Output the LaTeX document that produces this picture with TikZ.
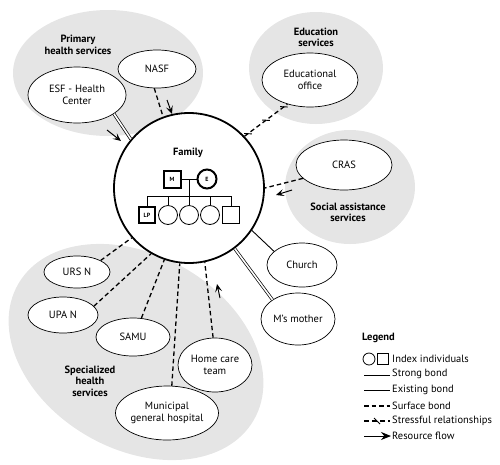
\documentclass[tikz,border=0pt]{standalone}
\usepackage{fontspec}
\setmainfont{PT Sans}
\usetikzlibrary{shapes.geometric,arrows.meta,decorations.markings}

\begin{document}
\begin{tikzpicture}[x=10pt,y=10pt,font=\fontsize{10.5}{12}\selectfont,
  area/.style={ellipse,fill=black!10,draw=none},
  res/.style={ellipse,draw,fill=white,line width=0.7pt,align=center},
  grptitle/.style={font=\fontsize{10.5}{11.5}\selectfont\bfseries,align=center},
  strong/.style={double,double distance=1.6pt,line width=0.7pt},
  existing/.style={line width=0.9pt},
  surface/.style={line width=1.3pt,dash pattern=on 4.5pt off 3pt},
  stress/.style={surface,postaction={decorate,decoration={markings,
      mark=between positions 0.08 and 0.92 step 0.42 with {\draw[solid,line width=0.9pt] (-3pt,2.5pt) -- (3pt,-2.5pt);}}}},
  flow/.style={-{Stealth[length=8pt,width=7pt,inset=3.5pt]},line width=1pt},
  thickbox/.style={draw,line width=2pt,minimum size=17pt,font=\fontsize{6}{6}\selectfont\bfseries},
  kid/.style={draw,circle,line width=0.8pt,minimum size=19pt},
  ]
		\tikzstyle{every node}+=[inner sep=0pt]
		\useasboundingbox (0,0) rectangle (50,-46.4);
		\node [area,minimum width=190pt,minimum height=126pt] (primary) at (10.8,-7.3) {};
		\node [area,minimum width=134pt,minimum height=112pt] (education) at (31.6,-6.8) {};
		\node [area,minimum width=130pt,minimum height=114pt] (social) at (35.0,-18.7) {};
		\node [area,minimum width=272pt,minimum height=194pt,rotate=-30] (specialized) at (13.6,-35.2) {};
		\node [grptitle] (primarytxt) at (7.8,-4.5) {Primary\\health services};
		\node [grptitle] (educationtxt) at (31.6,-3.75) {Education\\services};
		\node [grptitle] (socialtxt) at (34.8,-21.25) {Social assistance\\services};
		\node [grptitle] (specializedtxt) at (9.0,-38.1) {Specialized\\health\\services};
		\node [circle,draw,fill=white,line width=1.8pt,minimum size=150pt] (family) at (18.9,-18.8) {};
		\node [res,minimum width=98pt,minimum height=56pt] (esf) at (7.7,-9.5) {ESF - Health\\Center};
		\node [res,minimum width=78pt,minimum height=38pt] (nasf) at (15.7,-6.9) {NASF};
		\node [res,minimum width=96pt,minimum height=54pt] (office) at (31.0,-8.0) {Educational\\office};
		\node [res,minimum width=96pt,minimum height=50pt] (cras) at (34.4,-16.5) {CRAS};
		\node [res,minimum width=70pt,minimum height=44pt] (church) at (30.2,-26.5) {Church};
		\node [res,minimum width=74pt,minimum height=52pt] (mother) at (29.8,-31.9) {M’s mother};
		\node [res,minimum width=66pt,minimum height=32pt] (urs) at (7.7,-27.2) {URS N};
		\node [res,minimum width=70pt,minimum height=36pt] (upa) at (6.3,-31.5) {UPA N};
		\node [res,minimum width=74pt,minimum height=38pt] (samu) at (13.3,-33.7) {SAMU};
		\node [res,minimum width=74pt,minimum height=54pt] (home) at (21.5,-36.5) {Home care\\team};
		\node [res,minimum width=98pt,minimum height=54pt] (hospital) at (16.7,-41.3) {Municipal\\general hospital};
		\draw [strong] (esf.-27) -- (family.140);
		\draw [surface] (nasf.-98) -- (family.110);
		\draw [stress] (family.43) -- (office.227);
		\draw [surface] (cras.198) -- (family.0);
		\draw [existing] (family.-34) -- (church.154);
		\draw [strong] (family.-53) -- (mother.143);
		\draw [surface] (urs.26) -- (family.221);
		\draw [surface] (upa.16) -- (family.240);
		\draw [surface] (samu.66) -- (family.251);
		\draw [surface] (hospital.80) -- (family.263);
		\draw [surface] (home.94) -- (family.282);
		\coordinate (esfa) at (10.7,-13.0);
		\coordinate (esfb) at (12.1,-14.1);
		\coordinate (nasfa) at (16.7,-10.0);
		\coordinate (nasfb) at (17.2,-11.4);
		\coordinate (crasa) at (29.2,-19.0);
		\coordinate (crasb) at (27.6,-19.5);
		\coordinate (homea) at (22.0,-29.8);
		\coordinate (homeb) at (21.7,-28.4);
		\draw [flow] (esfa) -- (esfb);
		\draw [flow] (nasfa) -- (nasfb);
		\draw [flow] (crasa) -- (crasb);
		\draw [flow] (homea) -- (homeb);
		\node [font=\fontsize{10.5}{12}\selectfont\bfseries] (famtxt) at (18.8,-15.3) {Family};
		\node [thickbox] (m) at (17.2,-17.9) {M};
		\node [thickbox,circle,minimum size=19pt] (e) at (20.7,-17.9) {E};
		\node [thickbox,minimum size=16pt] (lp) at (14.7,-21.5) {LP};
		\node [kid] (c1) at (16.8,-21.5) {};
		\node [kid] (c2) at (18.9,-21.5) {};
		\node [kid] (c3) at (21.0,-21.5) {};
		\node [draw,line width=0.8pt,minimum size=17pt] (s1) at (23.1,-21.5) {};
		\coordinate (wed) at (18.9,-17.9);
		\coordinate (bar) at (18.9,-19.6);
		\draw [line width=0.8pt] (m) -- (e);
		\draw [line width=0.8pt] (wed) -- (bar);
		\draw [line width=0.8pt] (lp |- bar) -- (s1 |- bar);
		\foreach \k in {lp,c1,c2,c3,s1}
			\draw [line width=0.8pt] (\k) -- (\k |- bar);
		\node [font=\fontsize{10.5}{12}\selectfont\bfseries,anchor=west] (legend) at (36.2,-33.8) {Legend};
		\node [anchor=west] (lt1) at (39.2,-35.9) {Index individuals};
		\node [anchor=west] (lt2) at (39.2,-37.4) {Strong bond};
		\node [anchor=west] (lt3) at (39.2,-39.0) {Existing bond};
		\node [anchor=west] (lt4) at (39.2,-40.6) {Surface bond};
		\node [anchor=west] (lt5) at (39.2,-42.1) {Stressful relationships};
		\node [anchor=west] (lt6) at (39.2,-43.6) {Resource flow};
		\node [draw,circle,line width=0.8pt,minimum size=12pt] (lgc) at (36.9,-35.9) {};
		\node [draw,line width=0.8pt,minimum size=11pt] (lgs) at (38.3,-35.9) {};
		\draw [strong] ([xshift=-28pt]lt2.west) -- ([xshift=-2pt]lt2.west);
		\draw [existing] ([xshift=-28pt]lt3.west) -- ([xshift=-2pt]lt3.west);
		\draw [surface] ([xshift=-28pt]lt4.west) -- ([xshift=-2pt]lt4.west);
		\draw [line width=1.3pt,dash pattern=on 5pt off 3pt,postaction={decorate,decoration={markings,mark=at position 0.5 with {\draw[solid,line width=0.9pt] (-3pt,3pt) -- (3pt,-3pt);}}}] ([xshift=-28pt]lt5.west) -- ([xshift=-2pt]lt5.west);
		\draw [-{Stealth[length=10pt,width=8pt]},line width=1pt] ([xshift=-28pt]lt6.west) -- ([xshift=-1pt]lt6.west);
	\end{tikzpicture}
\end{document}
